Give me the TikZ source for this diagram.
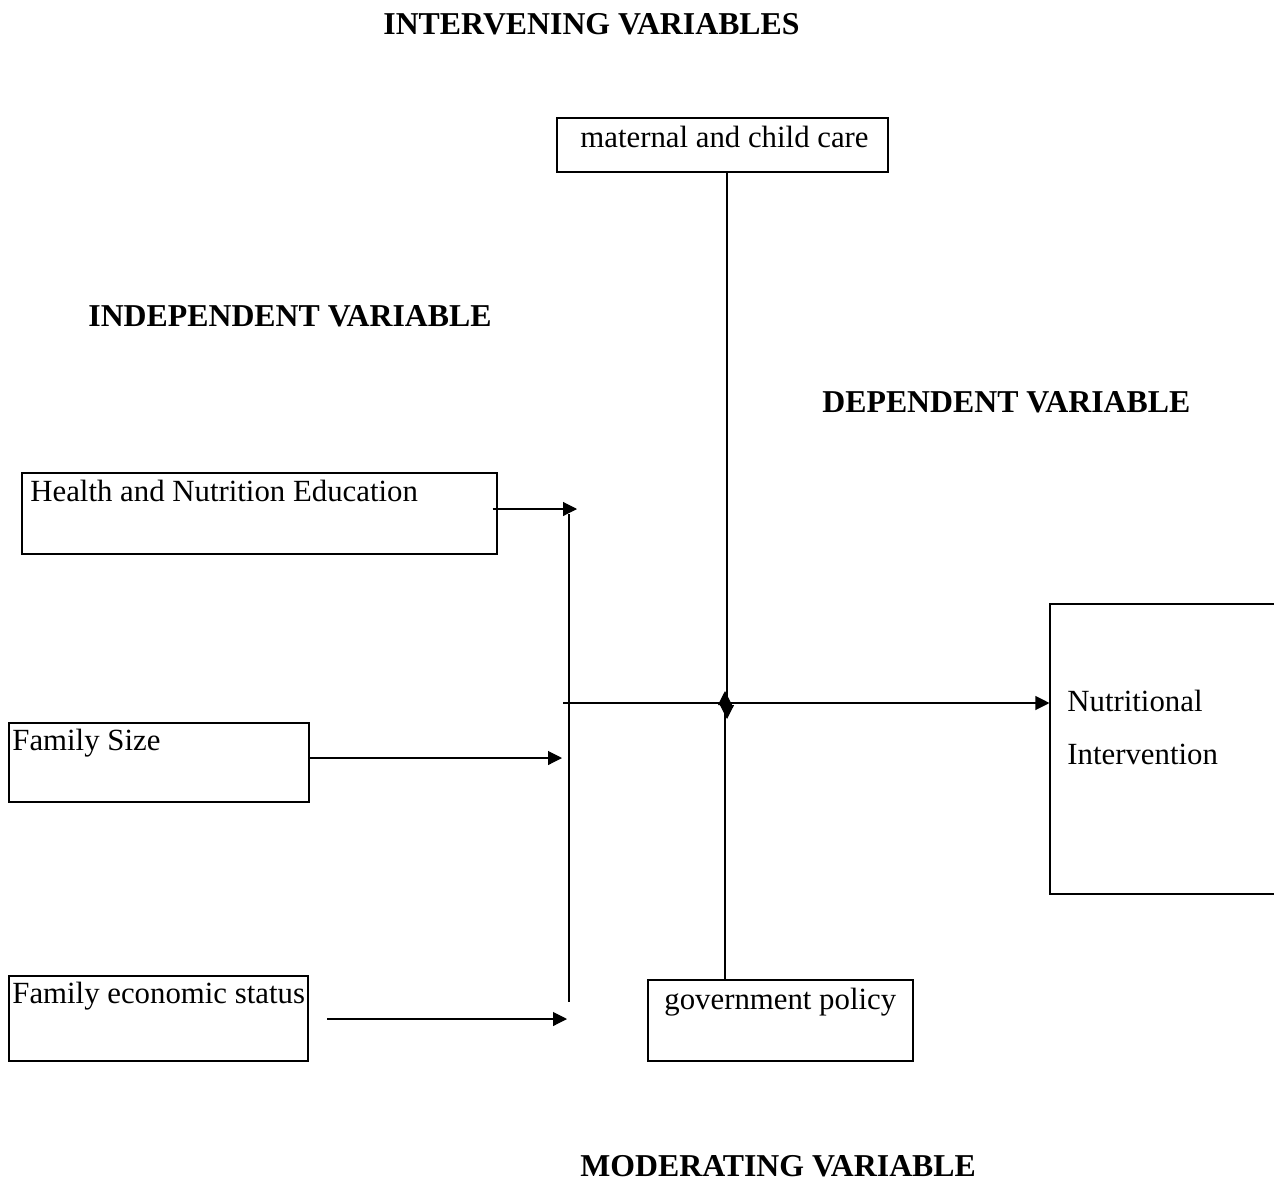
\documentclass[tikz,border=0pt]{standalone}
\usepackage{fontspec}
\setmainfont{Liberation Serif}
\usetikzlibrary{arrows.meta}
\begin{document}
\begin{tikzpicture}[x=0.5pt,y=-0.5pt,
  box/.style={draw, line width=0.55pt, inner sep=0pt, rectangle},
  txt/.style={anchor=base west, inner sep=0pt, font=\fontsize{15.4}{18}\selectfont},
  head/.style={anchor=base west, inner sep=0pt, font=\fontsize{15.9}{18}\selectfont\bfseries},
  wire/.style={line width=0.55pt},
  arr/.style={line width=0.55pt, -{Triangle[length=7pt,width=7pt]}}]
\clip (0,0) rectangle (1274,1183);
\fill[white] (0,0) rectangle (1274,1183);
% headings
\node[head] (hInt) at (383,34) {INTERVENING VARIABLES};
\node[head] (hInd) at (88,326) {INDEPENDENT VARIABLE};
\node[head] (hDep) at (822,412) {DEPENDENT VARIABLE};
\node[head] (hMod) at (580,1176) {MODERATING VARIABLE};
% boxes
\node[box, minimum width=165.5pt, minimum height=27pt] (mat) at (722.5,145) {};
\node[box, minimum width=237.5pt, minimum height=40.5pt] (health) at (259.5,513.5) {};
\node[box, minimum width=150pt, minimum height=39.5pt] (size) at (159,762.5) {};
\node[box, minimum width=149.5pt, minimum height=42.5pt] (econ) at (158.5,1018.5) {};
\node[box, minimum width=132.5pt, minimum height=40.5pt] (gov) at (780.5,1020.5) {};
\node[box, minimum width=130pt, minimum height=145pt] (nut) at (1180,749) {};
% texts
\node[txt] (tMat) at (580,147) {maternal and child care};
\node[txt] (tHealth) at (30,501) {Health and Nutrition Education};
\node[txt] (tSize) at (12,750) {Family Size};
\node[txt] (tEcon) at (12,1003) {Family economic status};
\node[txt] (tGov) at (664,1009) {government policy};
\node[txt] (tNut1) at (1067,711) {Nutritional};
\node[txt] (tNut2) at (1067,764) {Intervention};
% connector points
\coordinate (j1) at (577,509);
\coordinate (bt) at (569,514);
\coordinate (bb) at (569,1002);
\coordinate (j2) at (562,758);
\coordinate (e0) at (327,1019);
\coordinate (j3) at (567,1019);
\coordinate (h0) at (563,703);
\coordinate (m1) at (727,719);
\coordinate (g1) at (725,691);
% connectors
\draw[arr] ([xshift=-2.5pt]health.east |- j1) -- (j1);
\draw[wire] (bt) -- (bb);
\draw[arr] (size.east |- j2) -- (j2);
\draw[arr] (e0) -- (j3);
\draw[arr] (h0) -- (nut.west |- h0);
\draw[arr] (mat.south -| m1) -- (m1);
\draw[arr] (gov.north -| g1) -- (g1);
\end{tikzpicture}
\end{document}
